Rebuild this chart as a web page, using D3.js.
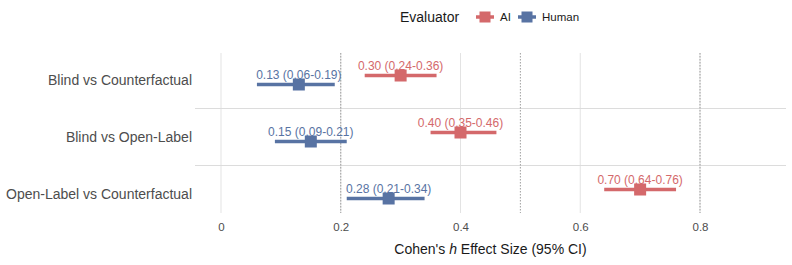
<!DOCTYPE html>
<html>
<head>
<meta charset="utf-8">
<script src="https://cdn.jsdelivr.net/npm/d3@7"></script>
<style>
  body { margin: 0; background: #fff; }
  text { font-family: "Liberation Sans", Arial, Helvetica, sans-serif; }
</style>
</head>
<body>
<div id="chart"></div>
<script>
let comparisons = [ "Blind vs Counterfactual", "Blind vs Open-Label", "Open-Label vs Counterfactual" ];
let evaluators = [ "AI", "Human" ];
let aiEst = [ 0.30, 0.40, 0.70 ];
let aiLow = [ 0.24, 0.35, 0.64 ];
let aiHigh = [ 0.36, 0.46, 0.76 ];
let humanEst = [ 0.13, 0.15, 0.28 ];
let humanLow = [ 0.06, 0.09, 0.21 ];
let humanHigh = [ 0.19, 0.21, 0.34 ];
let xTicks = [ 0, 0.2, 0.4, 0.6, 0.8 ];
let refLines = [ 0.2, 0.5, 0.8 ];

let colors = { AI: "#d4696b", Human: "#5873a3" };

let rows = [];
comparisons.forEach( (c, i) => {
  rows.push({ comp: c, ev: "AI", est: aiEst[i], lo: aiLow[i], hi: aiHigh[i] });
  rows.push({ comp: c, ev: "Human", est: humanEst[i], lo: humanLow[i], hi: humanHigh[i] });
});

let width = 792, height = 265;
let panel = { left: 195, right: 786, top: 53, bottom: 213 };

let svg = d3.select( "#chart" ).append( "svg" )
  .attr( "width", width ).attr( "height", height );

let x = d3.scaleLinear().domain([ 0, 0.8 ]).range([ 221, 700 ]);
let y = d3.scalePoint().domain( comparisons ).range([ 80, 194 ]);
let dodge = d3.scalePoint().domain( evaluators ).range([ -4.5, 4.5 ]);
let fmt = d3.format( ".2f" );

// grid
svg.append( "g" ).selectAll( "line" ).data( xTicks ).join( "line" )
  .attr( "x1", d => x(d) ).attr( "x2", d => x(d) )
  .attr( "y1", panel.top ).attr( "y2", panel.bottom )
  .attr( "stroke", "#e3e3e3" ).attr( "stroke-width", 1 );

let seps = comparisons.slice( 1 ).map( (c, i) => ( y(comparisons[i]) + y(c) ) / 2 );
svg.append( "g" ).selectAll( "line" ).data( seps ).join( "line" )
  .attr( "x1", panel.left ).attr( "x2", panel.right )
  .attr( "y1", d => d ).attr( "y2", d => d )
  .attr( "stroke", "#dcdcdc" ).attr( "stroke-width", 1 );

svg.append( "g" ).selectAll( "line" ).data( refLines ).join( "line" )
  .attr( "x1", d => x(d) ).attr( "x2", d => x(d) )
  .attr( "y1", panel.top ).attr( "y2", panel.bottom )
  .attr( "stroke", "#888" ).attr( "stroke-width", 0.8 )
  .attr( "stroke-dasharray", "1.5,1.5" );

// error bars + points
let g = svg.append( "g" );
g.selectAll( "line.ci" ).data( rows ).join( "line" )
  .attr( "class", "ci" )
  .attr( "x1", d => x(d.lo) ).attr( "x2", d => x(d.hi) )
  .attr( "y1", d => y(d.comp) + dodge(d.ev) ).attr( "y2", d => y(d.comp) + dodge(d.ev) )
  .attr( "stroke", d => colors[d.ev] ).attr( "stroke-width", 3.5 );

g.selectAll( "rect.pt" ).data( rows ).join( "rect" )
  .attr( "class", "pt" )
  .attr( "x", d => x(d.est) - 6 ).attr( "y", d => y(d.comp) + dodge(d.ev) - 6 )
  .attr( "width", 12 ).attr( "height", 12 )
  .attr( "fill", d => colors[d.ev] );

g.selectAll( "text.lab" ).data( rows ).join( "text" )
  .attr( "class", "lab" )
  .attr( "x", d => x(d.est) ).attr( "y", d => y(d.comp) + dodge(d.ev) - 6 )
  .attr( "text-anchor", "middle" )
  .attr( "font-size", 12 )
  .attr( "fill", d => colors[d.ev] )
  .text( d => `${fmt(d.est)} (${fmt(d.lo)}-${fmt(d.hi)})` );

// axes
let xAxis = svg.append( "g" )
  .attr( "transform", `translate(0,${panel.bottom})` )
  .call( d3.axisBottom( x ).tickValues( xTicks ).tickFormat( d => d === 0 ? "0" : d3.format( ".1f" )(d) ).tickSize( 0 ).tickPadding( 10 ) );
xAxis.select( ".domain" ).remove();
xAxis.selectAll( "text" ).attr( "font-size", 11.5 ).attr( "fill", "#4d4d4d" ).attr( "font-family", null );

let yAxis = svg.append( "g" )
  .attr( "transform", `translate(${panel.left - 3},0)` )
  .call( d3.axisLeft( y ).tickSize( 0 ).tickPadding( 0 ) );
yAxis.select( ".domain" ).remove();
yAxis.selectAll( "text" ).attr( "font-size", 14 ).attr( "fill", "#4d4d4d" ).attr( "font-family", null );

let title = svg.append( "text" )
  .attr( "x", ( panel.left + panel.right ) / 2 ).attr( "y", 254 )
  .attr( "text-anchor", "middle" ).attr( "font-size", 14 ).attr( "fill", "#1a1a1a" );
title.append( "tspan" ).text( "Cohen's " );
title.append( "tspan" ).attr( "font-style", "italic" ).text( "h" );
title.append( "tspan" ).text( " Effect Size (95% CI)" );

// legend
let legend = svg.append( "g" ).attr( "id", "legend" );
legend.append( "text" ).attr( "x", 400 ).attr( "y", 22 )
  .attr( "font-size", 14 ).attr( "fill", "#1a1a1a" ).text( "Evaluator" );

let keyX = { AI: 476, Human: 518 };
evaluators.forEach( ev => {
  let k = legend.append( "g" ).attr( "transform", `translate(${keyX[ev]},17)` );
  k.append( "line" ).attr( "x1", 0 ).attr( "x2", 18 ).attr( "stroke", colors[ev] ).attr( "stroke-width", 3.5 );
  k.append( "rect" ).attr( "x", 3.5 ).attr( "y", -5.5 ).attr( "width", 11 ).attr( "height", 11 ).attr( "fill", colors[ev] );
  k.append( "text" ).attr( "x", 24 ).attr( "y", 4 ).attr( "font-size", 11.5 ).attr( "fill", "#1a1a1a" ).text( ev );
});
</script>
</body>
</html>
